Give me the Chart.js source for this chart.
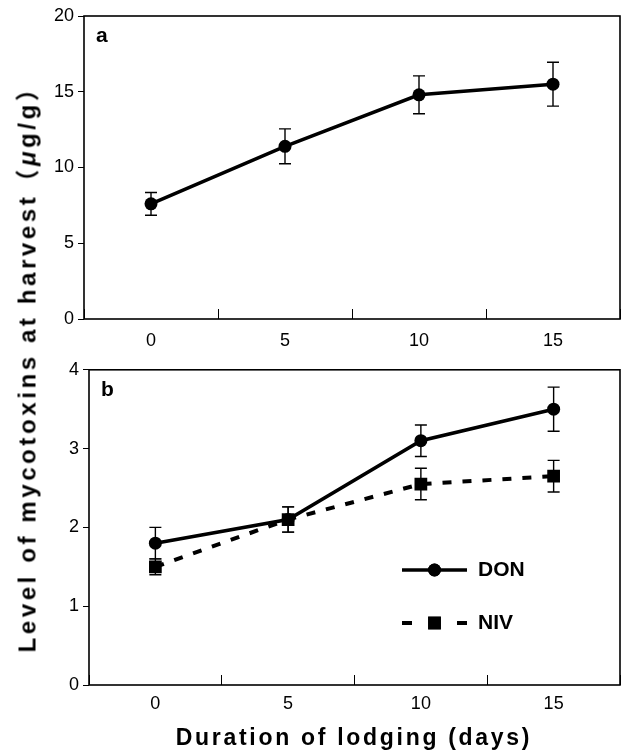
<!DOCTYPE html>
<html>
<head>
<meta charset="utf-8">
<script src="https://cdn.jsdelivr.net/npm/chart.js@4.4.1/dist/chart.umd.min.js"></script>
<style>
  body { margin: 0; background: #fff; }
  #wrap { position: relative; width: 621px; height: 750px; overflow: hidden; }
  canvas { position: absolute; left: 0; }
  #chartA { top: 0; }
  #chartB { top: 355px; }
  .title { position: absolute; white-space: nowrap; font-weight: bold; font-size: 23px; letter-spacing: 2.7px;
           font-family: "Liberation Sans", Arial, "Noto Sans CJK JP", sans-serif; color: #000; }
  #ytitle { left: 25px; top: 363px; font-size: 24px; letter-spacing: 3.6px;
            transform: translate(-50%, -50%) rotate(-90deg); }
  #xtitle { left: 354px; top: 737px; transform: translate(-50%, -50%); }
</style>
</head>
<body>
<div id="wrap">
  <canvas id="chartA" width="621" height="355"></canvas>
  <canvas id="chartB" width="621" height="395"></canvas>
  <div class="title" id="ytitle">Level of mycotoxins at harvest（<i>μ</i>g/g）</div>
  <div class="title" id="xtitle">Duration of lodging (days)</div>
</div>
<script>
// data
const days = ['0', '5', '10', '15'];
const donA = [7.6, 11.4, 14.8, 15.5];
const donAErr = [0.75, 1.15, 1.25, 1.45];
const donB = [1.8, 2.1, 3.1, 3.5];
const donBErr = [0.2, 0.16, 0.2, 0.28];
const nivB = [1.5, 2.1, 2.55, 2.65];
const nivBErr = [0.1, 0.16, 0.2, 0.2];

const tickFont = { family: '"Liberation Sans", Arial, sans-serif', size: 18 };
const boldFont = 'bold 21px "Liberation Sans", Arial, sans-serif';

// error bars, frame and panel letter
const errorBars = {
  id: 'errorBars',
  afterDatasetsDraw(chart) {
    const ctx = chart.ctx, ys = chart.scales.y;
    chart.data.datasets.forEach((ds, i) => {
      const meta = chart.getDatasetMeta(i);
      ctx.save();
      ctx.strokeStyle = '#000';
      ctx.lineWidth = 1.4;
      meta.data.forEach((pt, j) => {
        const v = ds.data[j], e = ds.errors[j];
        const t = ys.getPixelForValue(v + e), b = ys.getPixelForValue(v - e);
        ctx.beginPath();
        ctx.moveTo(pt.x, t); ctx.lineTo(pt.x, b);
        ctx.moveTo(pt.x - 6, t); ctx.lineTo(pt.x + 6, t);
        ctx.moveTo(pt.x - 6, b); ctx.lineTo(pt.x + 6, b);
        ctx.stroke();
      });
      ctx.restore();
    });
  }
};

const frame = {
  id: 'frame',
  afterDraw(chart, args, opts) {
    const { ctx, chartArea: a } = chart;
    ctx.save();
    ctx.strokeStyle = '#000';
    ctx.lineWidth = 1.6;
    ctx.strokeRect(a.left, a.top, a.right - a.left, a.bottom - a.top);
    ctx.fillStyle = '#000';
    ctx.font = boldFont;
    ctx.textBaseline = 'middle';
    ctx.fillText(opts.letter, a.left + 12, a.top + 20);
    ctx.restore();
  }
};

// legend inside panel b
const innerLegend = {
  id: 'innerLegend',
  afterDraw(chart, args, opts) {
    if (!opts.show) return;
    const ctx = chart.ctx;
    chart.data.datasets.forEach((ds, i) => {
      const y = opts.y + i * opts.gap, x0 = opts.x, x1 = opts.x + 65, xm = (x0 + x1) / 2;
      ctx.save();
      ctx.strokeStyle = '#000';
      ctx.lineWidth = ds.borderWidth;
      ctx.setLineDash(ds.borderDash ? [10, 45] : []);
      ctx.beginPath(); ctx.moveTo(x0, y); ctx.lineTo(x1, y); ctx.stroke();
      ctx.setLineDash([]);
      Chart.helpers.drawPoint(ctx, { pointStyle: ds.pointStyle, radius: ds.pointRadius, borderWidth: 0 }, xm, y);
      ctx.fillStyle = '#000';
      ctx.fill();
      ctx.font = boldFont;
      ctx.textBaseline = 'middle';
      ctx.fillText(ds.label, x1 + 11, y);
      ctx.restore();
    });
  }
};

function scales(yMax, yStep, yWidth, xHeight, labelPad) {
  return {
    x: {
      type: 'category',
      offset: true,
      grid: { offset: true, drawOnChartArea: false, tickLength: -10, color: '#000', lineWidth: 1 },
      border: { display: false },
      ticks: { color: '#000', font: tickFont, padding: labelPad, maxRotation: 0 },
      afterFit: s => { s.height = xHeight; }
    },
    y: {
      min: 0, max: yMax,
      grid: { drawOnChartArea: false, tickLength: 6, color: '#000', lineWidth: 1 },
      border: { display: false },
      ticks: { stepSize: yStep, color: '#000', font: tickFont, padding: 4 },
      afterFit: s => { s.width = yWidth; }
    }
  };
}

const donStyle = {
  borderColor: '#000', backgroundColor: '#000', borderWidth: 3.5,
  pointStyle: 'circle', pointRadius: 6.5, pointBorderWidth: 0
};

new Chart(document.getElementById('chartA'), {
  type: 'line',
  data: {
    labels: days,
    datasets: [Object.assign({ label: 'DON', data: donA, errors: donAErr }, donStyle)]
  },
  options: {
    responsive: false, animation: false,
    layout: { autoPadding: false, padding: { top: 16, right: 1, left: 0, bottom: 0 } },
    scales: scales(20, 5, 84, 36, 21),
    plugins: { legend: { display: false }, tooltip: { enabled: false }, frame: { letter: 'a' } }
  },
  plugins: [errorBars, frame]
});

new Chart(document.getElementById('chartB'), {
  type: 'line',
  data: {
    labels: days,
    datasets: [
      Object.assign({ label: 'DON', data: donB, errors: donBErr }, donStyle),
      { label: 'NIV', data: nivB, errors: nivBErr, borderColor: '#000', backgroundColor: '#000',
        borderWidth: 4, borderDash: [9, 11], pointStyle: 'rect', pointRadius: 9, pointBorderWidth: 0 }
    ]
  },
  options: {
    responsive: false, animation: false,
    layout: { autoPadding: false, padding: { top: 14, right: 1, left: 0, bottom: 0 } },
    scales: scales(4, 1, 89, 65, 18),
    plugins: {
      legend: { display: false }, tooltip: { enabled: false },
      frame: { letter: 'b' },
      innerLegend: { show: true, x: 402, y: 215, gap: 53 }
    }
  },
  plugins: [errorBars, frame, innerLegend]
});
</script>
</body>
</html>
